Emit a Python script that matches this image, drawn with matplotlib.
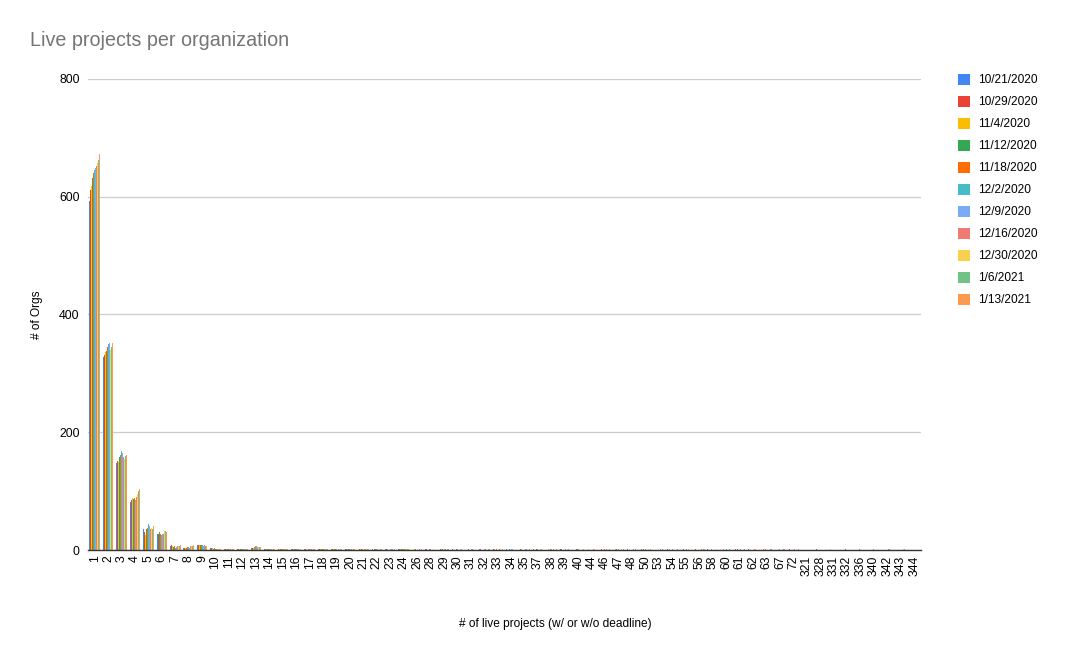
import numpy as np
import matplotlib
matplotlib.use("Agg")
import matplotlib.pyplot as plt
from matplotlib.patches import Patch

plt.rcParams['font.family'] = ['Liberation Sans', 'DejaVu Sans']

# dates (one series per snapshot)
dates = ['10/21/2020', '10/29/2020', '11/4/2020', '11/12/2020', '11/18/2020',
         '12/2/2020', '12/9/2020', '12/16/2020', '12/30/2020', '1/6/2021', '1/13/2021']
colors = ['#4285F4', '#EA4335', '#FBBC04', '#34A853', '#FF6D01', '#46BDC6',
          '#7BAAF7', '#F07B72', '#FCD04F', '#71C287', '#FF994D']

# number of live projects (x categories)
projects = [1, 2, 3, 4, 5, 6, 7, 8, 9, 10, 11, 12, 13, 14, 15, 16, 17, 18, 19, 20,
            21, 22, 23, 24, 26, 28, 29, 30, 31, 32, 33, 34, 35, 37, 38, 39, 40, 44,
            46, 47, 48, 50, 53, 54, 55, 56, 58, 60, 61, 62, 63, 67, 72, 321, 328,
            331, 332, 336, 340, 342, 343, 344]

# orgs per category, one row per category, one column per date
orgs = [
    [592, 612, 618, 632, 640, 645, 648, 652, 657, 662, 672],
    [328, 332, 336, 338, 345, 350, 352, 348, 340, 345, 352],
    [148, 152, 150, 158, 162, 168, 165, 158, 155, 160, 162],
    [82, 85, 88, 86, 88, 82, 85, 90, 95, 100, 104],
    [35, 30, 25, 35, 38, 45, 40, 35, 38, 35, 40],
    [28, 28, 28, 30, 28, 26, 28, 28, 32, 32, 30],
    [6, 8, 6, 5, 6, 4, 5, 6, 6, 7, 8],
    [3, 4, 3, 4, 5, 5, 4, 6, 7, 6, 8],
    [8, 8, 9, 8, 8, 8, 7, 8, 8, 7, 7],
    [4, 3, 3, 2, 3, 2, 2, 2, 2, 2, 2],
    [1, 2, 1, 1, 1, 1, 1, 1, 1, 1, 1],
    [1, 1, 1, 1, 1, 1, 2, 2, 2, 1, 2],
    [3, 4, 4, 5, 5, 6, 6, 5, 5, 5, 5],
    [2, 2, 2, 1, 2, 2, 2, 2, 1, 1, 1],
    [1, 1, 1, 1, 1, 1, 1, 1, 1, 2, 1],
    [1, 1, 1, 1, 1, 1, 1, 1, 1, 1, 1],
    [1, 1, 1, 0, 1, 1, 1, 1, 1, 1, 1],
    [1, 1, 1, 1, 1, 1, 1, 1, 1, 1, 1],
    [1, 1, 1, 1, 1, 1, 0, 1, 1, 1, 1],
    [1, 1, 1, 1, 1, 1, 1, 1, 1, 1, 1],
    [0, 1, 1, 1, 1, 0, 1, 1, 1, 1, 1],
    [1, 0, 0, 1, 1, 1, 1, 0, 1, 1, 1],
    [1, 1, 1, 0, 0, 1, 1, 1, 0, 1, 0],
    [1, 1, 1, 1, 1, 1, 1, 1, 1, 1, 1],
    [0, 0, 1, 1, 0, 0, 0, 1, 0, 0, 1],
    [1, 1, 0, 0, 1, 1, 0, 0, 1, 0, 0],
    [0, 1, 1, 1, 0, 0, 1, 1, 0, 1, 1],
    [1, 0, 0, 0, 1, 1, 0, 0, 1, 1, 0],
    [0, 0, 1, 1, 0, 0, 1, 1, 1, 0, 0],
    [1, 1, 0, 0, 0, 1, 1, 0, 0, 1, 1],
    [0, 1, 1, 0, 1, 0, 0, 1, 1, 0, 1],
    [1, 0, 0, 1, 0, 1, 1, 0, 0, 1, 0],
    [0, 1, 1, 0, 0, 0, 1, 1, 0, 0, 1],
    [1, 0, 0, 1, 1, 0, 0, 0, 1, 1, 0],
    [0, 0, 1, 0, 1, 1, 0, 1, 0, 0, 1],
    [1, 1, 0, 0, 0, 0, 1, 0, 1, 1, 0],
    [0, 0, 0, 1, 1, 1, 0, 0, 0, 0, 1],
    [1, 0, 1, 0, 0, 0, 0, 1, 1, 0, 0],
    [0, 1, 0, 0, 1, 0, 1, 0, 0, 1, 0],
    [0, 0, 1, 1, 0, 1, 0, 0, 1, 0, 1],
    [1, 0, 0, 0, 0, 0, 1, 1, 0, 1, 0],
    [0, 1, 0, 1, 0, 1, 0, 0, 1, 0, 1],
    [0, 0, 0, 0, 1, 0, 0, 1, 0, 1, 0],
    [1, 0, 1, 0, 0, 1, 0, 0, 0, 0, 1],
    [0, 0, 0, 1, 0, 0, 1, 0, 1, 0, 0],
    [0, 1, 0, 0, 0, 0, 0, 1, 0, 1, 1],
    [1, 0, 0, 0, 1, 0, 0, 0, 1, 0, 0],
    [0, 0, 1, 0, 0, 1, 0, 0, 0, 1, 0],
    [0, 1, 0, 1, 0, 0, 1, 0, 0, 0, 1],
    [1, 0, 0, 0, 0, 0, 0, 1, 1, 0, 0],
    [0, 0, 1, 0, 1, 0, 0, 0, 0, 1, 1],
    [0, 0, 0, 0, 0, 1, 0, 0, 1, 1, 1],
    [0, 1, 0, 0, 0, 0, 1, 0, 0, 0, 1],
    [1, 0, 0, 0, 0, 0, 0, 0, 0, 0, 0],
    [0, 1, 0, 0, 0, 0, 0, 0, 0, 0, 0],
    [0, 0, 1, 0, 0, 0, 0, 0, 0, 0, 0],
    [0, 0, 0, 1, 0, 0, 0, 0, 0, 0, 0],
    [0, 0, 0, 0, 1, 0, 0, 0, 0, 0, 0],
    [0, 0, 0, 0, 0, 1, 0, 0, 0, 0, 0],
    [0, 0, 0, 0, 0, 0, 1, 1, 0, 0, 0],
    [0, 0, 0, 0, 0, 0, 0, 0, 1, 1, 0],
    [0, 0, 0, 0, 0, 0, 0, 0, 0, 0, 1],
]

vals = np.array(orgs)
n_cat, n_ser = vals.shape
x = np.arange(n_cat)
group_w = 0.78
bw = group_w / n_ser

fig = plt.figure(figsize=(10.7, 6.59), dpi=100)
ax = fig.add_axes([0.0822, 0.1654, 0.7785, 0.7148])

for i in range(n_ser):
    ax.bar(x - group_w / 2 + bw * (i + 0.5), vals[:, i], width=bw,
           color=colors[i], linewidth=0, zorder=2)

ax.set_xlim(-0.5, n_cat - 0.5)
ax.set_ylim(0, 800)
ax.set_yticks([0, 200, 400, 600, 800])
ax.set_xticks(x)
ax.set_xticklabels([str(p) for p in projects], rotation=90, fontsize=8.8)
ax.tick_params(axis='y', labelsize=8.8, length=0, pad=6)
ax.tick_params(axis='x', length=0, pad=4)
ax.grid(axis='y', color='#cccccc', linewidth=0.9, zorder=0)
for s in ['top', 'right', 'left']:
    ax.spines[s].set_visible(False)
ax.spines['bottom'].set_color('#333333')
ax.spines['bottom'].set_linewidth(1.0)
ax.spines['bottom'].set_zorder(3)

ax.set_ylabel('# of Orgs', fontsize=8.6)
ax.yaxis.set_label_coords(-0.054, 0.5)
ax.set_xlabel('# of live projects (w/ or w/o deadline)', fontsize=8.6)
ax.xaxis.set_label_coords(0.561, -0.145)

fig.text(0.028, 0.938, 'Live projects per organization', fontsize=14.2,
         color='#757575', ha='left', va='center')

handles = [Patch(facecolor=c, edgecolor='none') for c in colors]
fig.legend(handles, dates, loc='upper left', bbox_to_anchor=(0.891, 0.895),
           frameon=False, fontsize=8.6, handlelength=1.0, handleheight=1.0,
           handletextpad=0.65, labelspacing=0.8, borderaxespad=0)

fig.savefig('out.png', dpi=100)
